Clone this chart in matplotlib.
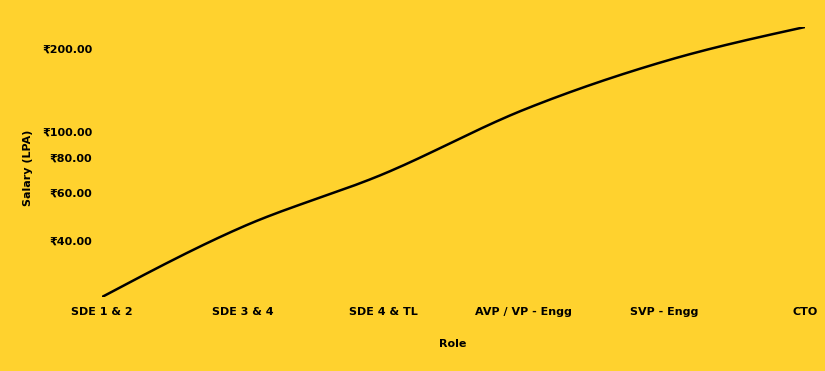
import numpy as np
import matplotlib
matplotlib.use("Agg")
import matplotlib.pyplot as plt

roles = ["SDE 1 & 2", "SDE 3 & 4", "SDE 4 & TL", "AVP / VP - Engg", "SVP - Engg", "CTO"]
salary = [25, 45, 70, 120, 180, 240]
y_ticks = [40, 60, 80, 100, 200]
y_tick_labels = ["₹40.00", "₹60.00", "₹80.00", "₹100.00", "₹200.00"]

BG = "#FFD22E"

def monotone_x(xs, ys, n=40):
    xs = np.asarray(xs, float); ys = np.asarray(ys, float)
    h = np.diff(xs); s = np.diff(ys) / h
    m = np.zeros(len(xs))
    for i in range(1, len(xs) - 1):
        p = (s[i-1] * h[i] + s[i] * h[i-1]) / (h[i-1] + h[i])
        m[i] = (np.sign(s[i-1]) + np.sign(s[i])) * min(abs(s[i-1]), abs(s[i]), 0.5 * abs(p))
    m[0] = (3 * s[0] - m[1]) / 2
    m[-1] = (3 * s[-1] - m[-2]) / 2
    px, py = [], []
    for i in range(len(xs) - 1):
        t = np.linspace(0, 1, n, endpoint=(i == len(xs) - 2))
        h00 = 2*t**3 - 3*t**2 + 1; h10 = t**3 - 2*t**2 + t
        h01 = -2*t**3 + 3*t**2; h11 = t**3 - t**2
        px.append(xs[i] + t * h[i])
        py.append(h00*ys[i] + h10*h[i]*m[i] + h01*ys[i+1] + h11*h[i]*m[i+1])
    return np.concatenate(px), np.concatenate(py)

fig = plt.figure(figsize=(8.25, 3.71), dpi=100, facecolor=BG)
ax = fig.add_axes([102/825, 1 - 297/371, (805 - 102)/825, (297 - 27)/371])
ax.set_facecolor(BG)

xi = np.arange(len(roles))
cx, cy = monotone_x(xi, np.log10(salary))
ax.plot(cx, 10**cy, color="black", lw=1.8, solid_capstyle="butt")

ax.set_yscale("log")
ax.set_xlim(0, len(roles) - 1)
ax.set_ylim(min(salary), max(salary))
ax.set_yticks(y_ticks)
ax.set_yticklabels(y_tick_labels)
ax.yaxis.set_minor_locator(matplotlib.ticker.NullLocator())
ax.set_xticks(xi)
ax.set_xticklabels(roles)
ax.tick_params(axis="both", length=0, labelsize=8)
ax.tick_params(axis="y", pad=7)
ax.tick_params(axis="x", pad=7.5)
for lab in ax.get_xticklabels() + ax.get_yticklabels():
    lab.set_fontweight("bold")
for sp in ax.spines.values():
    sp.set_visible(False)

fig.text(453/825, 1 - 344/371, "Role", ha="center", va="center", fontsize=8, fontweight="bold")
fig.text(28/825, 1 - 168/371, "Salary (LPA)", ha="center", va="center", rotation=90,
         fontsize=8, fontweight="bold")

fig.savefig("out.png", dpi=100, facecolor=BG)
